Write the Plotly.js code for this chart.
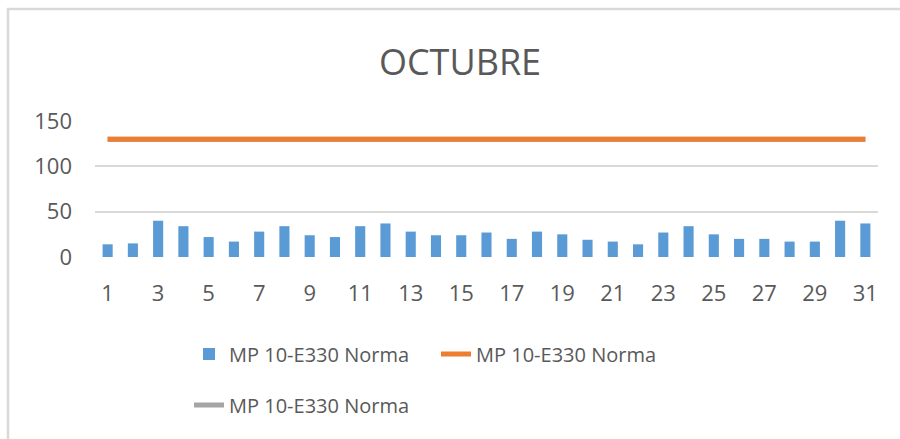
<!DOCTYPE html>
<html>
<head>
<meta charset="utf-8">
<script src="https://cdn.plot.ly/plotly-3.0.1.min.js"></script>
<style>html,body{margin:0;padding:0;background:#fff;}#chart{width:900px;height:439px;}</style>
</head>
<body>
<div id="chart"></div>
<script>
const days = [1,2,3,4,5,6,7,8,9,10,11,12,13,14,15,16,17,18,19,20,21,22,23,24,25,26,27,28,29,30,31];
const mp10 = [14,15,40,34,22,17,28,34,24,22,34,37,28,24,24,27,20,28,25,19,17,14,27,34,25,20,20,17,17,40,37];
const norma = [130,130,130,130,130,130,130,130,130,130,130,130,130,130,130,130,130,130,130,130,130,130,130,130,130,130,130,130,130,130,130];
const normaGray = [130,130,130,130,130,130,130,130,130,130,130,130,130,130,130,130,130,130,130,130,130,130,130,130,130,130,130,130,130,130,130];
const seriesName = "MP 10-E330 Norma";
const xTicks = [1,3,5,7,9,11,13,15,17,19,21,23,25,27,29,31];
const yTicks = [0,50,100,150];

const FONT = "Open Sans, Noto Sans, sans-serif";
const TXT = "#595959";

const traces = [
  {type:"bar", x:days, y:mp10, name:seriesName, marker:{color:"#5b9bd5"}, legend:"legend"},
  {type:"scatter", mode:"lines", x:days, y:normaGray, name:seriesName, line:{color:"#a5a5a5", width:5}, legend:"legend2"},
  {type:"scatter", mode:"lines", x:days, y:norma, name:seriesName, line:{color:"#ed7d31", width:5}, legend:"legend"}
];

const L=95, R=22, T=121, B=182;
const W=900, H=439;
const pw=W-L-R, ph=H-T-B;
const px = v => (v-L)/pw;
const py = v => (H-B-v)/ph;

const layout = {
  width:W, height:H,
  margin:{l:L, r:R, t:T, b:B, pad:0},
  paper_bgcolor:"#ffffff", plot_bgcolor:"#ffffff",
  font:{family:FONT, color:TXT},
  title:{text:"OCTUBRE", font:{family:FONT, size:36, color:TXT}, x:460/W, xanchor:"center", yref:"container", y:1-62/H, yanchor:"middle"},
  bargap:0.6,
  xaxis:{range:[0.5,31.5], tickvals:xTicks, ticktext:xTicks.map(String), tickfont:{size:22, color:TXT}, showgrid:false, zeroline:false, showline:false, ticks:"", ticklabelstandoff:21},
  yaxis:{range:[0,150], tickvals:yTicks, tickfont:{size:22, color:TXT}, showgrid:true, gridcolor:"#d9d9d9", gridwidth:2, zeroline:false, showline:false, ticks:"", ticklabelstandoff:22},
  showlegend:true,
  legend:{orientation:"h", x:px(189), xanchor:"left", y:py(354), yanchor:"middle", font:{size:20, color:TXT}, entrywidth:202, bgcolor:"rgba(0,0,0,0)"},
  legend2:{orientation:"h", x:px(189), xanchor:"left", y:py(405), yanchor:"middle", font:{size:20, color:TXT}, bgcolor:"rgba(0,0,0,0)"},
  shapes:[{type:"rect", xref:"paper", yref:"paper", x0:px(8), x1:px(910), y0:py(450), y1:py(9), line:{color:"#d9d9d9", width:2.5}, fillcolor:"rgba(0,0,0,0)", layer:"below"}]
};

Plotly.newPlot("chart", traces, layout, {staticPlot:true, displayModeBar:false});
</script>
</body>
</html>
